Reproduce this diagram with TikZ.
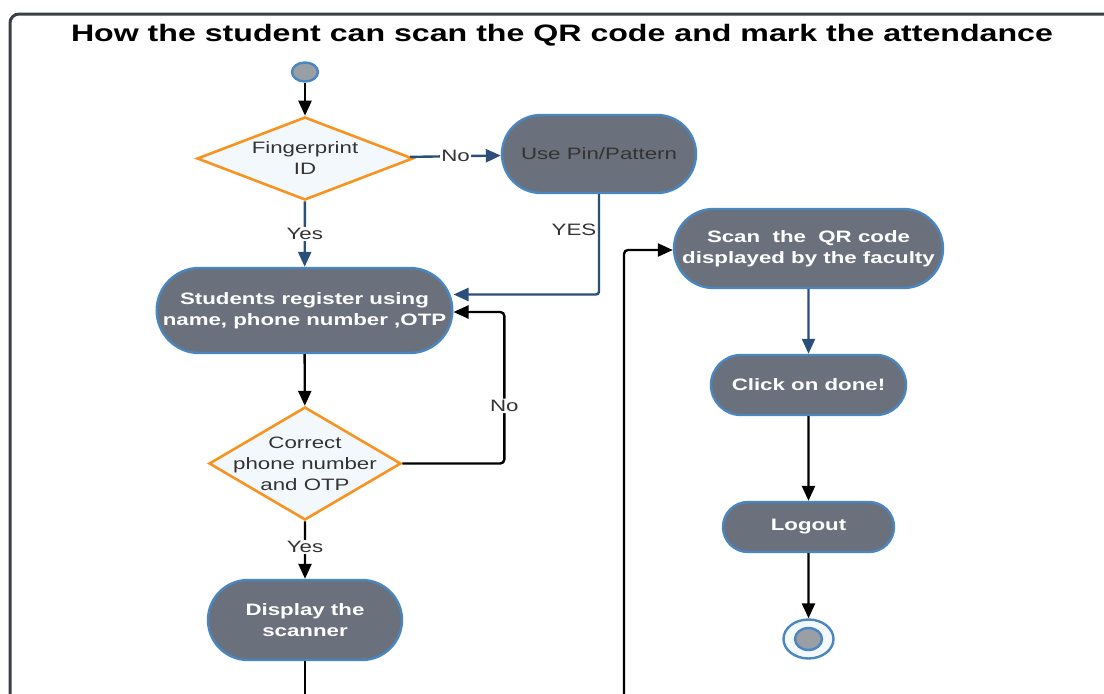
\documentclass[tikz,border=0pt]{standalone}
\usepackage{fontspec}
\setmainfont{Liberation Sans}[FakeStretch=1.35]
\usetikzlibrary{arrows.meta,shapes.geometric,shapes.misc}

\definecolor{boxgray}{HTML}{6B717C}
\definecolor{rimblue}{HTML}{4A86C0}
\definecolor{decorange}{HTML}{F7931E}
\definecolor{decfill}{HTML}{F3F8FD}
\definecolor{flowblue}{HTML}{2A4F7A}
\definecolor{inkgray}{HTML}{333333}
\definecolor{framegray}{HTML}{3A3E45}
\definecolor{dotgray}{HTML}{9A9EA5}

\begin{document}
\begin{tikzpicture}[
  x=1pt,y=-1pt,
  frame/.style={draw=framegray, line width=3pt},
  heading/.style={font=\bfseries\fontsize{23.8}{28}\selectfont, text=black, inner sep=0pt},
  action/.style={rounded rectangle, draw=rimblue, fill=boxgray, line width=2.4pt,
    text=white, font=\bfseries\fontsize{16.5}{21}\selectfont, align=center, inner sep=2pt},
  decision/.style={diamond, draw=decorange, fill=decfill, line width=2.6pt,
    text=inkgray, font=\fontsize{16.5}{21}\selectfont, align=center, inner sep=0pt},
  dot/.style={ellipse, draw=rimblue, fill=dotgray, line width=2.4pt, inner sep=0pt},
  lbl/.style={font=\fontsize{16.5}{19}\selectfont, text=inkgray, inner sep=1.5pt},
  flowblack/.style={black, line width=2.4pt, -{Triangle[length=15pt,width=13pt]}},
  flowblueln/.style={flowblue, line width=2.4pt, -{Triangle[length=15pt,width=13pt]}}
]
\clip (0,0) rectangle (1104,694);

% ----------------------------- frame and title -----------------------------
\draw[frame, rounded corners=9] (10,720) -- (10,14) -- (1120,14);
\node[heading] (title) at (562,35) {How the student can scan the QR code and mark the attendance};

% ----------------------------- left column -----------------------------
\node[dot, minimum width=26, minimum height=19] (start) at (305,72) {};
\node[decision, shape aspect=2.6, minimum width=216, minimum height=83] (finger) at (305,158.5)
  {Fingerprint\\ID};
\node[action, minimum width=198, minimum height=78, text=inkgray, font=\fontsize{16.5}{21}\selectfont]
  (pin) at (599,154) {Use Pin/Pattern};
\node[action, minimum width=295, minimum height=85] (register) at (304.5,310.5)
  {Students register using\\name, phone number ,OTP};
\node[decision, shape aspect=1.7, inner sep=-9pt, minimum width=192, minimum height=113]
  (check) at (305,463.5) {Correct\\phone number\\and OTP};
\node[action, minimum width=198, minimum height=80] (scanner) at (305,620) {Display the\\scanner};

% ----------------------------- right column -----------------------------
\node[action, minimum width=273, minimum height=79] (scanqr) at (808.5,248.5)
  {Scan\ \ the\ \ QR code\\displayed by the faculty};
\node[action, minimum width=199, minimum height=60] (done) at (808.5,385) {Click on done!};
\node[action, minimum width=175, minimum height=50] (logout) at (808.5,527) {Logout};
\node[ellipse, draw=rimblue, fill=decfill, line width=2.4pt, inner sep=0pt,
  minimum width=50, minimum height=39] (finish) at (808.5,639) {};
\node[dot, minimum width=27, minimum height=22] (finishdot) at (finish.center) {};

% free ends running off the page
\coordinate (scannerout) at (305,720);
\coordinate (scanin) at (624,720);

% ----------------------------- connectors -----------------------------
\draw[flowblack] (start) -- (finger);
\draw[flowblueln] (finger) -- node[lbl, fill=white] (nolbl) {No} (pin);
\draw[flowblueln, rounded corners=3] (pin.south) |- node[lbl, pos=0.18, left] (yeslbl) {YES}
  ([yshift=16pt]register.east);
\draw[flowblueln] (finger) -- node[lbl, fill=white] (yesone) {Yes} (register);
\draw[flowblack] (register) -- (check);
\draw[flowblack, rounded corners=4] (check.east) -- ++(102,0) coordinate (loopcorner)
  |- node[lbl, pos=0.19, fill=white] (nolbltwo) {No} ([yshift=-1.5pt]register.east);
\draw[flowblack] (check) -- node[lbl, fill=white, pos=0.45] (yestwo) {Yes} (scanner);
\draw[black, line width=2.4pt] (scanner) -- (scannerout);
\draw[flowblack, rounded corners=4] (scanin) |- ([yshift=-1.5pt]scanqr.west);
\draw[flowblueln] (scanqr) -- (done);
\draw[flowblack] (done) -- (logout);
\draw[flowblack] (logout) -- (finish);

\end{tikzpicture}
\end{document}
